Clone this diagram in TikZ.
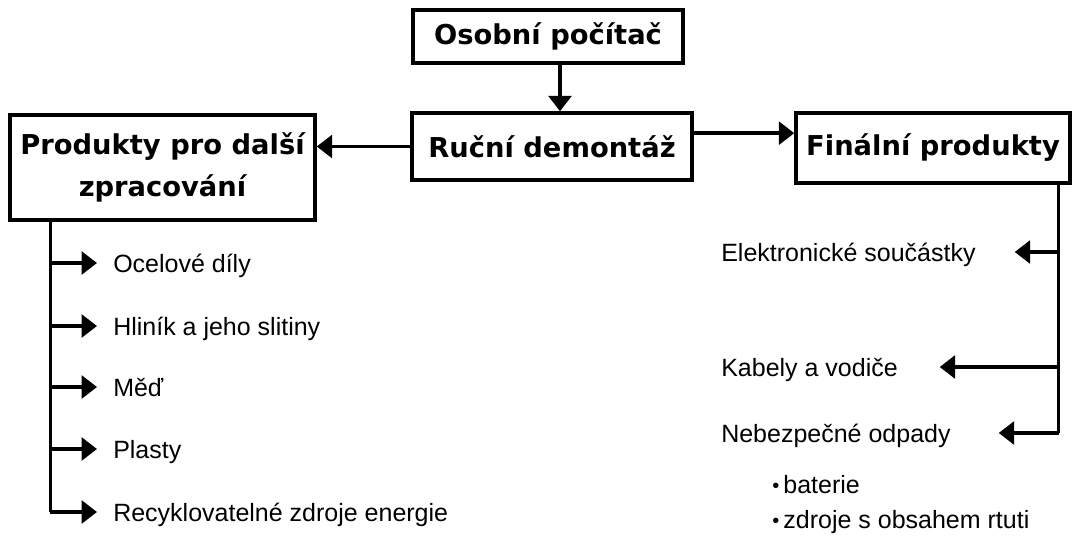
\documentclass[tikz,border=0pt]{standalone}
\usepackage{fontspec}
\setmainfont{Liberation Sans}
\newfontfamily\headfont{DejaVu Sans}
\usepackage{tikz}
\usetikzlibrary{arrows.meta, positioning}
\newcommand{\dotb}{{\fontsize{15}{15}\selectfont\raisebox{0.5pt}{•}}\,}
\tikzset{
  stage/.style={rectangle, draw=black, line width=2.6pt, fill=white, align=center, font=\headfont\bfseries\fontsize{20.5}{32}\selectfont, inner sep=2pt},
  item/.style={anchor=west, inner sep=0pt, text height=13.5pt, text depth=0pt, font=\fontsize{18.75}{22}\selectfont},
  arr/.style={-{Triangle[length=11.5pt, width=17pt]}, line width=2.6pt},
  trunk/.style={line width=2.6pt},
}

\begin{document}
\begin{tikzpicture}[x=0.75pt, y=-0.75pt]
\useasboundingbox (0,0) rectangle (1074,536);
% main boxes
\node[stage, minimum width=202.5pt, minimum height=39.75pt] (pc) at (548,36.5) {Osobní počítač};
\node[stage, minimum width=210pt, minimum height=50.25pt] (demont) at (552,146.5) {Ruční demontáž};
\node[stage, minimum width=228.75pt, minimum height=78.75pt] (dalsi) at (162.5,167.5) {Produkty pro další\\zpracování};
\node[stage, minimum width=205.5pt, minimum height=52.5pt] (final) at (933,148) {Finální produkty};

\draw[arr] ([xshift=9pt]pc.south) -- ([xshift=9pt]pc.south |- demont.north);
\draw[arr] (demont.west) -- (demont.west -| dalsi.east);
\draw[arr] ([yshift=10pt]demont.east) -- ([yshift=10pt]demont.east -| final.west);

% left branch
\node[item] (ocel) at (113,263) {Ocelové díly};
\node[item] (hlinik) at (113,326) {Hliník a jeho slitiny};
\node[item] (med) at (113,387) {Měď};
\node[item] (plast) at (113,449) {Plasty};
\node[item] (recy) at (113,512) {Recyklovatelné zdroje energie};
\coordinate (lt) at ([xshift=31.5pt]dalsi.south west);
\draw[trunk] (lt) -- (lt |- recy.west);
\draw[arr] (lt |- ocel.west) -- ([xshift=-12pt]ocel.west);
\draw[arr] (lt |- hlinik.west) -- ([xshift=-12pt]hlinik.west);
\draw[arr] (lt |- med.west) -- ([xshift=-12pt]med.west);
\draw[arr] (lt |- plast.west) -- ([xshift=-12pt]plast.west);
\draw[arr] (lt |- recy.west) -- ([xshift=-12pt]recy.west);

% right branch
\node[item] (elek) at (721,252) {Elektronické součástky};
\node[item] (kabel) at (721,367) {Kabely a vodiče};
\node[item] (odpad) at (721,433) {Nebezpečné odpady};
\node[item] (bat) at (772,484) {\dotb baterie};
\node[item] (rtut) at (772,519) {\dotb zdroje s obsahem rtuti};
\coordinate (rt) at ([xshift=-9.75pt]final.south east);
\draw[trunk] (rt) -- (rt |- odpad.west);
\draw[arr] (rt |- elek.west) -- ++(-44,0);
\draw[arr] (rt |- kabel.west) -- ++(-119,0);
\draw[arr] (rt |- odpad.west) -- ++(-60,0);
\end{tikzpicture}
\end{document}
